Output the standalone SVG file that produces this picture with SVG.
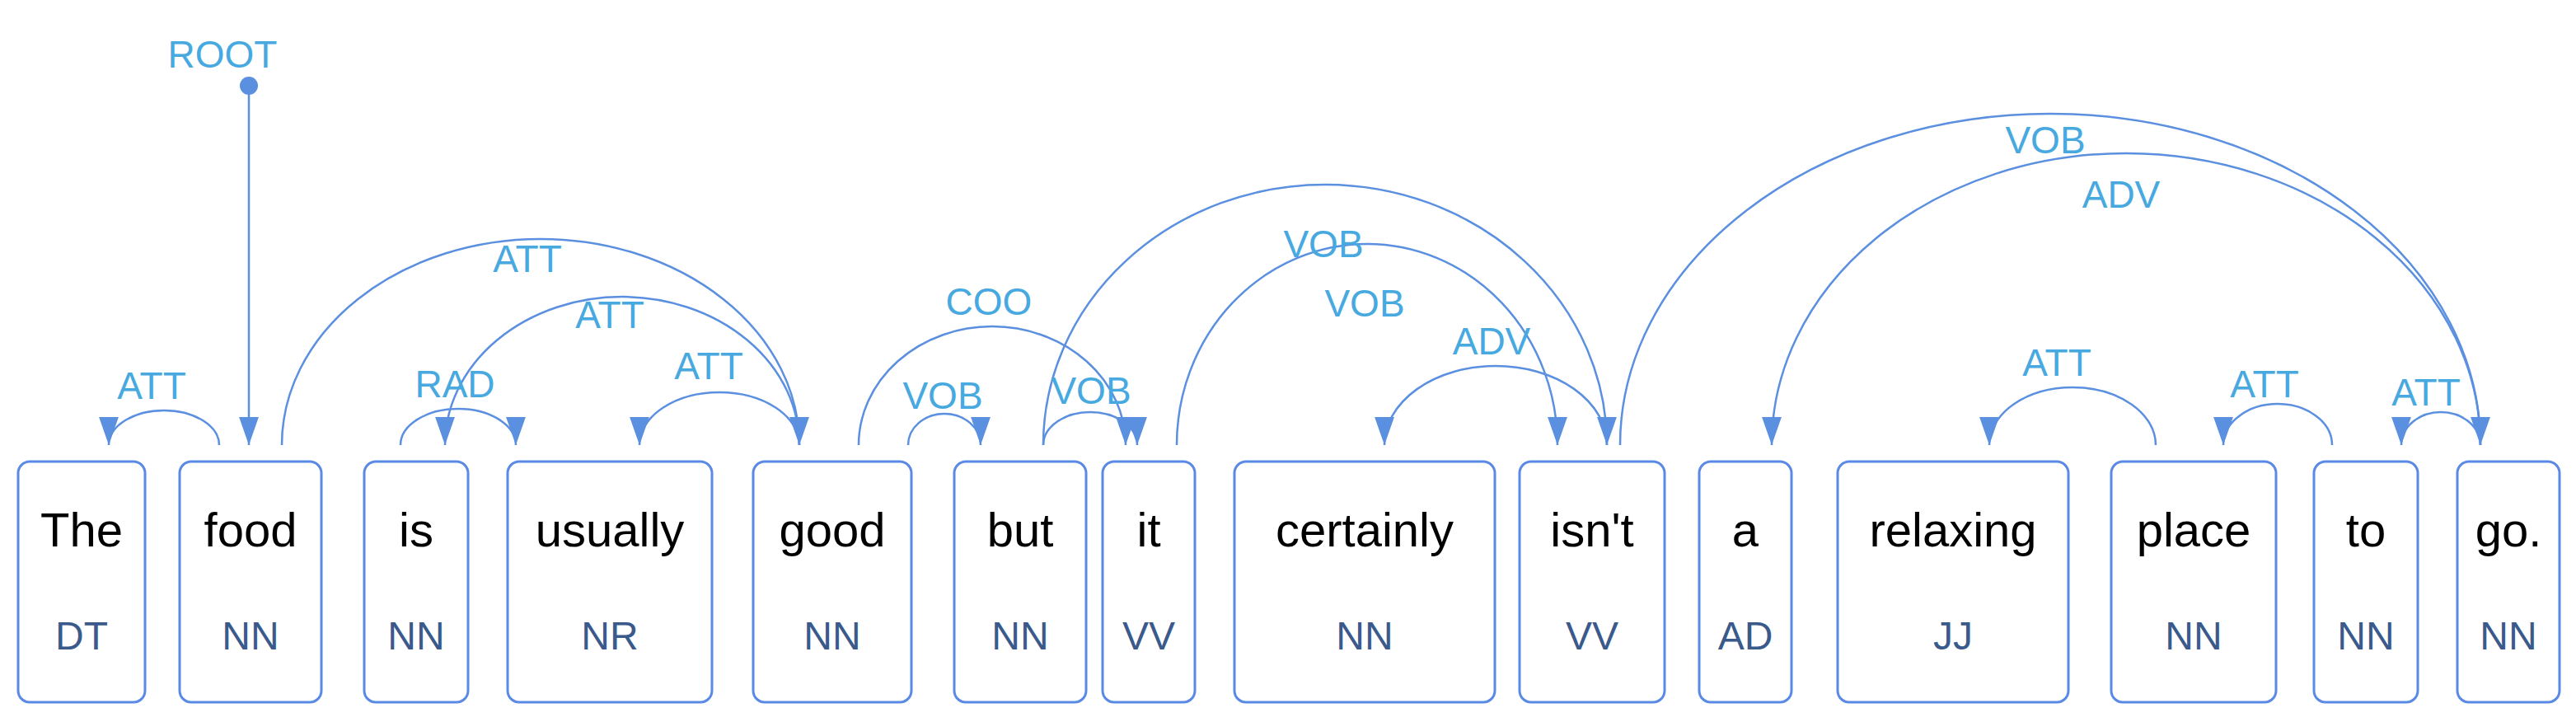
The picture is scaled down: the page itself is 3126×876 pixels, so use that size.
<svg xmlns="http://www.w3.org/2000/svg" width="3126" height="876" viewBox="0 0 3126 876">
<style>
.box{fill:#fff;stroke:#5a8ae6;stroke-width:3}
.w{font-family:"Liberation Sans",Arial,sans-serif;font-size:58px;fill:#000;text-anchor:middle}
.p{font-family:"Liberation Sans",Arial,sans-serif;font-size:48px;fill:#3b5a8c;text-anchor:middle}
.arc{fill:none;stroke:#5b8fe0;stroke-width:2.5;marker-end:url(#ah)}
.l{font-family:"Liberation Sans",Arial,sans-serif;font-size:46px;fill:#47a9e0;text-anchor:middle}
</style>
<defs>
<marker id="ah" viewBox="0 0 20 14" refX="20" refY="7" markerWidth="34" markerHeight="24" markerUnits="userSpaceOnUse" orient="auto"><path d="M0,0 L20,7 L0,14 z" fill="#5b8fe0"/></marker>
</defs>
<g id="n0"><rect class="box" x="22" y="560" width="154" height="292" rx="14"/><text class="w" x="99" y="663">The</text><text class="p" x="99" y="788">DT</text></g>
<g id="n1"><rect class="box" x="218" y="560" width="172" height="292" rx="14"/><text class="w" x="304" y="663">food</text><text class="p" x="304" y="788">NN</text></g>
<g id="n2"><rect class="box" x="442" y="560" width="126" height="292" rx="14"/><text class="w" x="505" y="663">is</text><text class="p" x="505" y="788">NN</text></g>
<g id="n3"><rect class="box" x="616" y="560" width="248" height="292" rx="14"/><text class="w" x="740" y="663">usually</text><text class="p" x="740" y="788">NR</text></g>
<g id="n4"><rect class="box" x="914" y="560" width="192" height="292" rx="14"/><text class="w" x="1010" y="663">good</text><text class="p" x="1010" y="788">NN</text></g>
<g id="n5"><rect class="box" x="1158" y="560" width="160" height="292" rx="14"/><text class="w" x="1238" y="663">but</text><text class="p" x="1238" y="788">NN</text></g>
<g id="n6"><rect class="box" x="1338" y="560" width="112" height="292" rx="14"/><text class="w" x="1394" y="663">it</text><text class="p" x="1394" y="788">VV</text></g>
<g id="n7"><rect class="box" x="1498" y="560" width="316" height="292" rx="14"/><text class="w" x="1656" y="663">certainly</text><text class="p" x="1656" y="788">NN</text></g>
<g id="n8"><rect class="box" x="1844" y="560" width="176" height="292" rx="14"/><text class="w" x="1932" y="663">isn't</text><text class="p" x="1932" y="788">VV</text></g>
<g id="n9"><rect class="box" x="2062" y="560" width="112" height="292" rx="14"/><text class="w" x="2118" y="663">a</text><text class="p" x="2118" y="788">AD</text></g>
<g id="n10"><rect class="box" x="2230" y="560" width="280" height="292" rx="14"/><text class="w" x="2370" y="663">relaxing</text><text class="p" x="2370" y="788">JJ</text></g>
<g id="n11"><rect class="box" x="2562" y="560" width="200" height="292" rx="14"/><text class="w" x="2662" y="663">place</text><text class="p" x="2662" y="788">NN</text></g>
<g id="n12"><rect class="box" x="2808" y="560" width="126" height="292" rx="14"/><text class="w" x="2871" y="663">to</text><text class="p" x="2871" y="788">NN</text></g>
<g id="n13"><rect class="box" x="2982" y="560" width="124" height="292" rx="14"/><text class="w" x="3044" y="663">go.</text><text class="p" x="3044" y="788">NN</text></g>
<g id="connectors">
<circle cx="302" cy="104" r="11" fill="#5b8fe0"/>
<path class="arc" d="M302,104 L302,540"/>
<path class="arc" d="M266,540 A67,42 0 0 0 132,540"/>
<path class="arc" d="M342,540 A314,250 0 0 1 970,540"/>
<path class="arc" d="M970,540 A215,180 0 0 0 540,540"/>
<path class="arc" d="M486,540 A70,44 0 0 1 626,540"/>
<path class="arc" d="M970,540 A97,64 0 0 0 776,540"/>
<path class="arc" d="M1042,540 A162,144 0 0 1 1366,540"/>
<path class="arc" d="M1102,540 A44,38 0 0 1 1190,540"/>
<path class="arc" d="M1266,540 A57,40 0 0 1 1380,540"/>
<path class="arc" d="M1266,540 A342,316 0 0 1 1950,540"/>
<path class="arc" d="M1428,540 A231,244 0 0 1 1890,540"/>
<path class="arc" d="M1950,540 A135,96 0 0 0 1680,540"/>
<path class="arc" d="M1966,540 A522,402 0 0 1 3010,540"/>
<path class="arc" d="M3010,540 A430,354 0 0 0 2150,540"/>
<path class="arc" d="M2616,540 A101,70 0 0 0 2414,540"/>
<path class="arc" d="M2830,540 A66,50 0 0 0 2698,540"/>
<path class="arc" d="M3010,540 A48,40 0 0 0 2914,540"/>
<text class="l" x="270" y="82">ROOT</text>
<text class="l" x="184" y="484">ATT</text>
<text class="l" x="640" y="330">ATT</text>
<text class="l" x="740" y="398">ATT</text>
<text class="l" x="552" y="482">RAD</text>
<text class="l" x="860" y="460">ATT</text>
<text class="l" x="1200" y="382">COO</text>
<text class="l" x="1144" y="496">VOB</text>
<text class="l" x="1324" y="490">VOB</text>
<text class="l" x="1606" y="312">VOB</text>
<text class="l" x="1656" y="384">VOB</text>
<text class="l" x="1810" y="430">ADV</text>
<text class="l" x="2482" y="186">VOB</text>
<text class="l" x="2574" y="252">ADV</text>
<text class="l" x="2496" y="456">ATT</text>
<text class="l" x="2748" y="482">ATT</text>
<text class="l" x="2944" y="492">ATT</text>
</g>
</svg>
